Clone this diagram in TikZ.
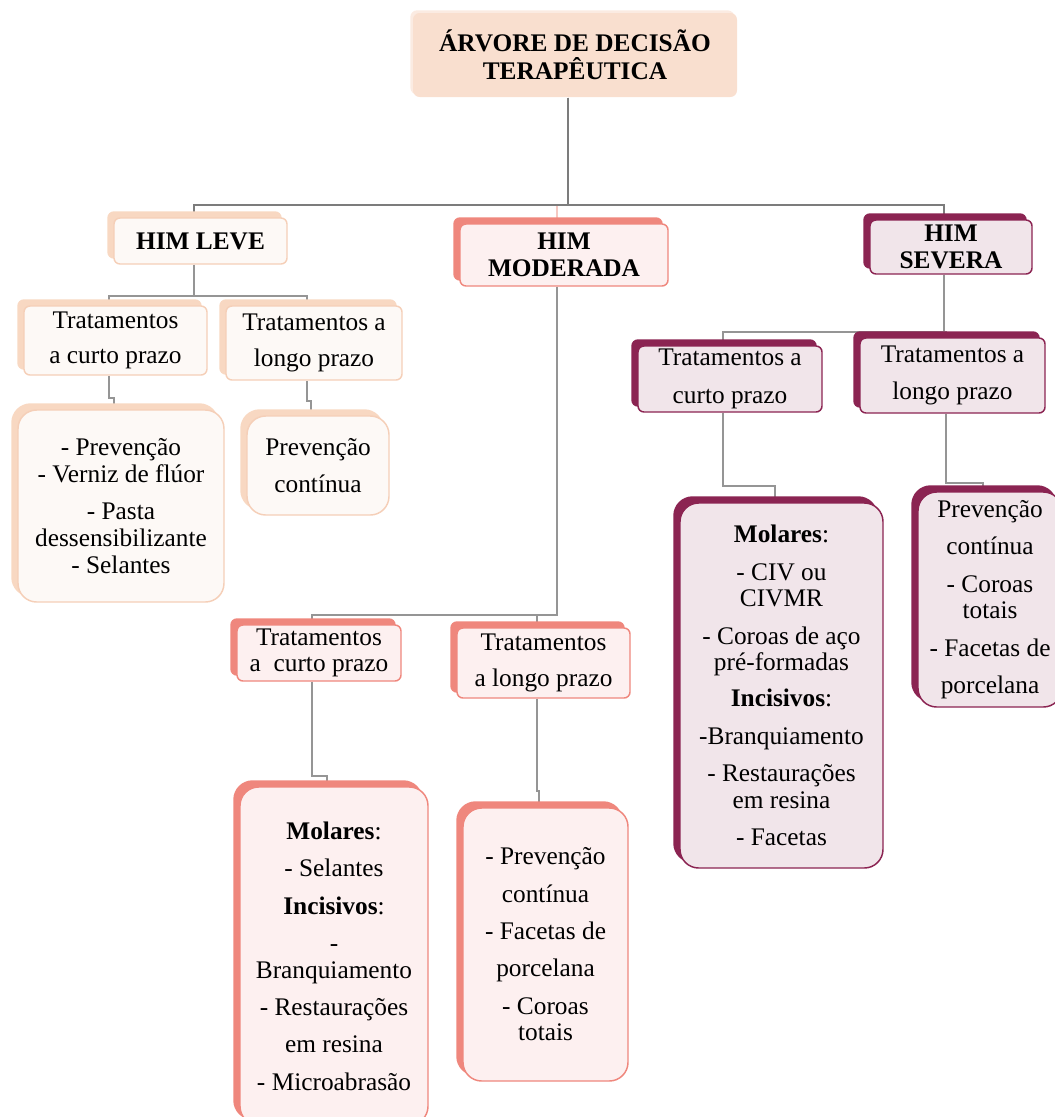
\documentclass[tikz,border=0pt]{standalone}
\usepackage{fontspec}
\setmainfont{Liberation Serif}
\usetikzlibrary{shadows}
\pgfdeclarelayer{bg}
\pgfsetlayers{bg,main}
\definecolor{titlefill}{HTML}{F9DFCF}
\definecolor{titleshadow}{HTML}{FBEBE2}
\definecolor{pkback}{HTML}{F8D8C2}
\definecolor{pkline}{HTML}{F5CFB8}
\definecolor{pkfill}{HTML}{FDF9F6}
\definecolor{slback}{HTML}{EF877D}
\definecolor{slline}{HTML}{EF877D}
\definecolor{slfill}{HTML}{FDF0F0}
\definecolor{mrback}{HTML}{8B2452}
\definecolor{mrline}{HTML}{8B2452}
\definecolor{mrfill}{HTML}{F1E5EA}
\definecolor{conncol}{HTML}{959595}
\definecolor{topconncol}{HTML}{7C7C7C}
\definecolor{faintconn}{HTML}{F6C9C2}
\tikzset{
  box/.style={align=center, inner sep=0pt, font=\fontsize{19}{20}\selectfont, line width=1.1pt, rounded corners=4.5pt},
  leaf/.style={rounded corners=14pt},
  titlebox/.style={box, fill=titlefill, draw=none, rounded corners=5pt,
    copy shadow={shadow xshift=-2pt, shadow yshift=2pt, fill=titleshadow, draw=none}},
  pk/.style={box, draw=pkline, fill=pkfill,
    copy shadow={shadow xshift=-4.5pt, shadow yshift=4.5pt, fill=pkback, draw=pkback}},
  sl/.style={box, draw=slline, fill=slfill,
    copy shadow={shadow xshift=-4.5pt, shadow yshift=4.5pt, fill=slback, draw=slback}},
  mr/.style={box, draw=mrline, fill=mrfill,
    copy shadow={shadow xshift=-4.5pt, shadow yshift=4.5pt, fill=mrback, draw=mrback}},
  conn/.style={draw=conncol, line width=1.3pt},
  topconn/.style={draw=topconncol, line width=1.7pt},
  faint/.style={draw=faintconn, line width=1.3pt},
}
\newcommand\bx[7]{\node[#6, minimum width={(#4-#2)*0.75pt}, minimum height={(#5-#3)*0.75pt}] (#1) at ({(#2+#4)/2},{(#3+#5)/2}) {#7};}
\begin{document}
\begin{tikzpicture}[x=0.75pt, y=-0.75pt]
\useasboundingbox (0,0) rectangle (1055,1117);
% title
\bx{t}{413}{13}{737}{97}{titlebox}{\textbf{ÁRVORE DE DECISÃO}\\[1pt]\textbf{TERAPÊUTICA}}
% level 1
\bx{lv}{114}{218}{287}{264}{pk}{\textbf{HIM LEVE}}
\bx{md}{460}{224}{668}{286}{sl}{\textbf{HIM}\\\textbf{MODERADA}}
\bx{sv}{870}{220}{1032}{274}{mr}{\textbf{HIM}\\\textbf{SEVERA}}
% level 2
\bx{lvs}{24}{306}{207}{375}{pk}{Tratamentos\\[6pt]a curto prazo}
\bx{lvl}{226}{306}{402}{380}{pk}{Tratamentos a\\[7pt]longo prazo}
\bx{mds}{237}{625}{401}{681}{sl}{Tratamentos\\a\ \ curto prazo}
\bx{mdl}{457}{628}{630}{698}{sl}{Tratamentos\\[7pt]a longo prazo}
\bx{svs}{638}{346}{822}{412}{mr}{Tratamentos a\\[8pt]curto prazo}
\bx{svl}{860}{338}{1045}{413}{mr}{Tratamentos a\\[8pt]longo prazo}
% leaves
\bx{lvsl}{18}{410}{224}{602}{pk,leaf}{- Prevenção\\- Verniz de flúor\\[8pt]- Pasta\\dessensibilizante\\- Selantes}
\bx{lvll}{247}{416}{389}{515}{pk,leaf}{Prevenção\\[8pt]contínua}
\bx{mdsl}{240}{787}{428}{1125}{sl,leaf}{\textbf{Molares}:\\[8pt]- Selantes\\[8pt]\textbf{Incisivos}:\\[8pt]-\\Branquiamento\\[8pt]- Restaurações\\[8pt]em resina\\[8pt]- Microabrasão}
\bx{mdll}{463}{808}{628}{1081}{sl,leaf}{- Prevenção\\[8pt]contínua\\[8pt]- Facetas de\\[8pt]porcelana\\[8pt]- Coroas\\totais}
\bx{svsl}{680}{503}{883}{868}{mr,leaf}{\textbf{Molares}:\\[8pt]- CIV ou\\CIVMR\\[8pt]- Coroas de aço\\pré-formadas\\[7pt]\textbf{Incisivos}:\\[8pt]-Branquiamento\\[8pt]- Restaurações\\em resina\\[8pt]- Facetas}
\bx{svll}{918}{492}{1062}{707}{mr,leaf}{Prevenção\\[8pt]contínua\\[8pt]- Coroas\\totais\\[8pt]- Facetas de\\[8pt]porcelana}
% connectors
\begin{pgfonlayer}{bg}
\draw[faint] ([xshift=-5.5pt]t.south) -- ++(0,107) -| ([xshift=-5pt]md.north);
\draw[topconn] ([xshift=-5.5pt]t.south) -- ++(0,107) -| ([xshift=-5pt]lv.north);
\draw[topconn] ([xshift=-5.5pt]t.south) -- ++(0,107) -| ([xshift=-5pt]sv.north);
\draw[conn] ([xshift=-5pt]lv.south) -- ++(0,31) -| ([xshift=-5pt]lvs.north);
\draw[conn] ([xshift=-5pt]lv.south) -- ++(0,31) -| ([xshift=-5pt]lvl.north);
\draw[conn] ([xshift=-5pt]md.south) -- ++(0,328) -| ([xshift=-5pt]mds.north);
\draw[conn] ([xshift=-5pt]md.south) -- ++(0,328) -| ([xshift=-5pt]mdl.north);
\draw[conn] ([xshift=-5pt]sv.south) -- ++(0,57) -| ([xshift=-5pt]svs.north);
\draw[conn] ([xshift=-5pt]sv.south) -- ++(0,57) -| ([xshift=-5pt]svl.north);
\draw[conn] ([xshift=-5pt]lvs.south) -- ++(0,22) -| ([xshift=-5pt]lvsl.north);
\draw[conn] ([xshift=-5pt]lvl.south) -- ++(0,20) -| ([xshift=-5pt]lvll.north);
\draw[conn] ([xshift=-5pt]mds.south) -- ++(0,94) -| ([xshift=-5pt]mdsl.north);
\draw[conn] ([xshift=-5pt]mdl.south) -- ++(0,92) -| ([xshift=-5pt]mdll.north);
\draw[conn] ([xshift=-5pt]svs.south) -- ++(0,73) -| ([xshift=-5pt]svsl.north);
\draw[conn] ([xshift=-5pt]svl.south) -- ++(0,69) -| ([xshift=-5pt]svll.north);
\end{pgfonlayer}
\end{tikzpicture}
\end{document}
